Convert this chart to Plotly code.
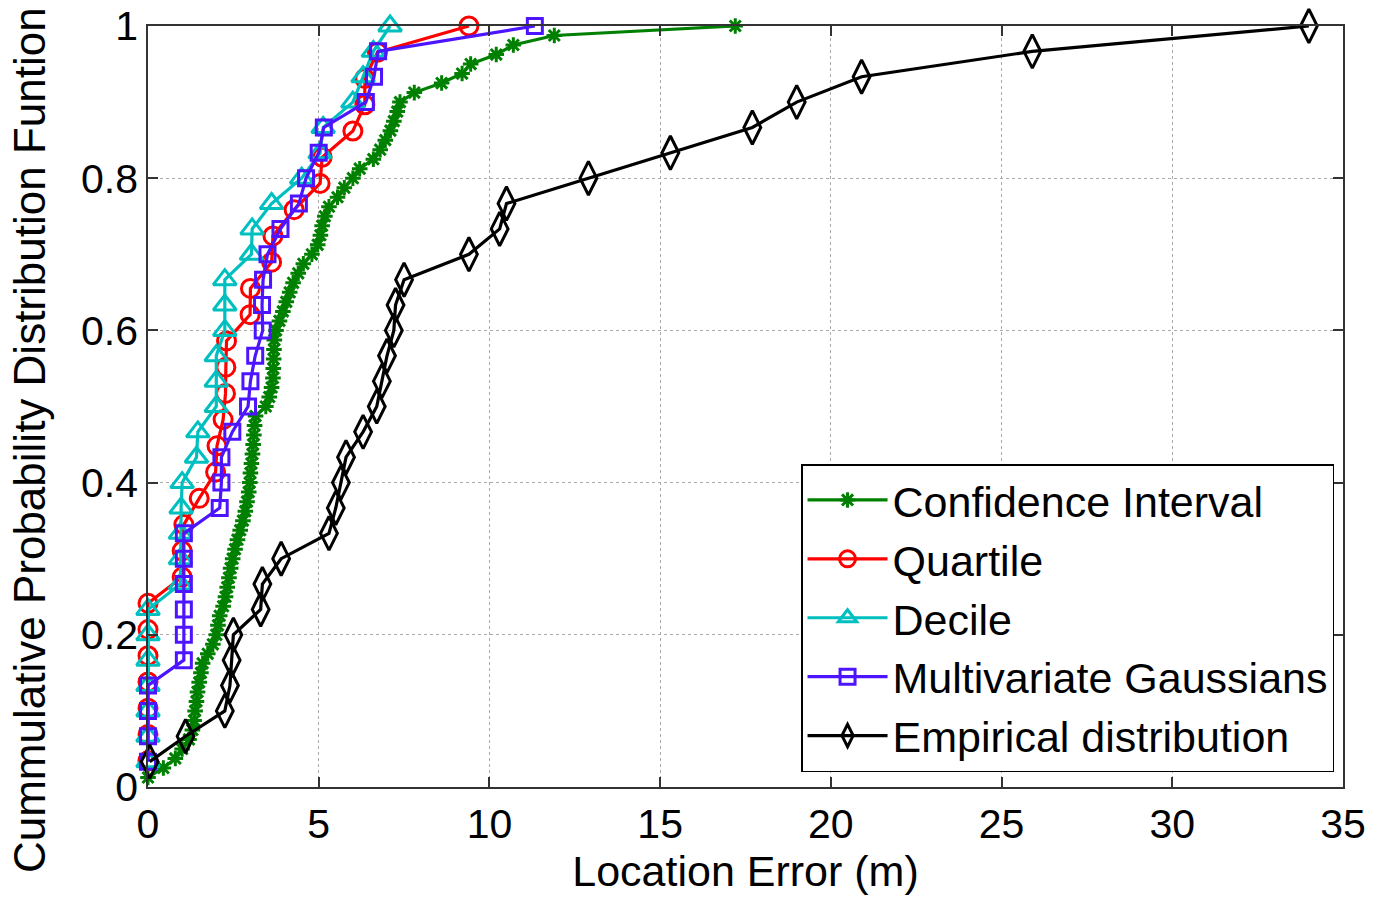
import plotly.graph_objects as go

# ---------------- data ----------------
ci_y = [k / 80 for k in range(1, 81)]
ci_x = [0.0, 0.45, 0.8, 1.0, 1.2, 1.3, 1.35, 1.38, 1.42, 1.45,
        1.5, 1.55, 1.6, 1.75, 1.9, 2.0, 2.05, 2.1, 2.2, 2.27,
        2.32, 2.37, 2.42, 2.48, 2.55, 2.62, 2.7, 2.78, 2.85, 2.9,
        2.95, 2.98, 3.0, 3.03, 3.06, 3.08, 3.1, 3.12, 3.15, 3.45,
        3.55, 3.62, 3.66, 3.67, 3.68, 3.69, 3.7, 3.75, 3.85, 3.95,
        4.05, 4.15, 4.25, 4.4, 4.55, 4.8, 4.97, 5.05, 5.1, 5.18,
        5.3, 5.55, 5.75, 6.0, 6.2, 6.6, 6.8, 6.95, 7.1, 7.2,
        7.3, 7.38, 7.8, 8.6, 9.2, 9.45, 10.2, 10.7, 11.9, 17.2]

quart_y = [k / 29 for k in range(1, 30)]
quart_x = [0, 0, 0, 0, 0, 0, 0, 1.0, 1.0, 1.05,
           1.5, 1.98, 2.02, 2.2, 2.27, 2.28, 2.3, 2.99, 3.0, 3.62,
           3.66, 4.28, 5.04, 5.1, 6.0, 6.35, 6.35, 6.72, 9.4]

dec_y = [k / 30 for k in range(1, 31)]
dec_x = [0, 0, 0, 0, 0, 0, 0, 0.95, 0.95, 0.95,
         0.97, 1.0, 1.42, 1.46, 2.0, 2.0, 2.0, 2.25, 2.25, 2.25,
         3.03, 3.05, 3.62, 4.5, 5.04, 5.13, 6.0, 6.3, 6.6, 7.09]

mg_y = [k / 30 for k in range(1, 31)]
mg_x = [0, 0, 0, 0, 1.05, 1.05, 1.05, 1.05, 1.05, 1.05,
        2.1, 2.15, 2.15, 2.47, 2.93, 3.0, 3.14, 3.36, 3.34, 3.37,
        3.5, 3.88, 4.42, 4.63, 5.0, 5.15, 6.38, 6.62, 6.74, 11.33]

emp_y = [k / 30 for k in range(1, 31)]
emp_x = [0.05, 1.1, 2.25, 2.4, 2.45, 2.5, 3.3, 3.35, 3.9, 5.3,
         5.5, 5.65, 5.8, 6.3, 6.7, 6.85, 7.0, 7.2, 7.25, 7.5,
         9.4, 10.3, 10.5, 12.9, 15.3, 17.7, 19.0, 20.9, 25.9, 34.0]

xticks = [0, 5, 10, 15, 20, 25, 30, 35]
yticks = [0, 0.2, 0.4, 0.6, 0.8, 1.0]
ytick_text = ["0", "0.2", "0.4", "0.6", "0.8", "1"]

series = [
    ("Confidence Interval", ci_x, ci_y, "#008000", "asterisk-open", 13),
    ("Quartile", quart_x, quart_y, "#ff0000", "circle-open", 18),
    ("Decile", dec_x, dec_y, "#00bfbf", "triangle-up-open", 20),
    ("Multivariate Gaussians", mg_x, mg_y, "#4c14ff", "square-open", 15),
    ("Empirical distribution", emp_x, emp_y, "#000000", "diamond-tall-open", 24),
]

FONT = "Liberation Sans, Arial, sans-serif"

fig = go.Figure()
for name, xs, ys, col, sym, sz in series:
    fig.add_trace(go.Scatter(
        x=xs, y=ys, name=name, mode="lines+markers", cliponaxis=False,
        line=dict(color=col, width=3.2),
        marker=dict(symbol=sym, size=sz, color=col, line=dict(color=col, width=3)),
    ))

fig.update_layout(
    width=1373, height=899,
    margin=dict(l=148, r=30, t=26, b=112),
    paper_bgcolor="white", plot_bgcolor="white",
    font=dict(family=FONT, size=41, color="black"),
    legend=dict(
        x=0.9925, y=0.0197, xanchor="right", yanchor="bottom",
        bgcolor="white", bordercolor="black", borderwidth=1.5,
        font=dict(family=FONT, size=43, color="black"),
        itemwidth=80,
    ),
    annotations=[dict(
        text="Cummulative Probability Distribution Funtion",
        xref="paper", yref="paper", x=-0.0987, y=0.456,
        xanchor="center", yanchor="middle", textangle=-90, showarrow=False,
        font=dict(family=FONT, size=44, color="black"),
    )],
)
fig.update_xaxes(
    range=[0, 35], tickvals=xticks, ticks="inside", ticklen=10, tickwidth=1.5,
    tickcolor="#333333", automargin=False,
    showline=True, linecolor="#333333", linewidth=1.5, mirror="ticks",
    showgrid=True, gridcolor="#aaaaaa", griddash="dot", gridwidth=1.2,
    zeroline=False,
    tickfont=dict(size=41),
    title=dict(text="Location Error (m)", font=dict(size=43), standoff=4),
)
fig.update_yaxes(
    range=[0, 1], tickvals=yticks, ticktext=ytick_text, ticks="inside", ticklen=10,
    tickwidth=1.5, tickcolor="#333333", automargin=False,
    showline=True, linecolor="#333333", linewidth=1.5, mirror="ticks",
    showgrid=True, gridcolor="#aaaaaa", griddash="dot", gridwidth=1.2,
    zeroline=False,
    tickfont=dict(size=41),
)

fig.write_html("out.html")
